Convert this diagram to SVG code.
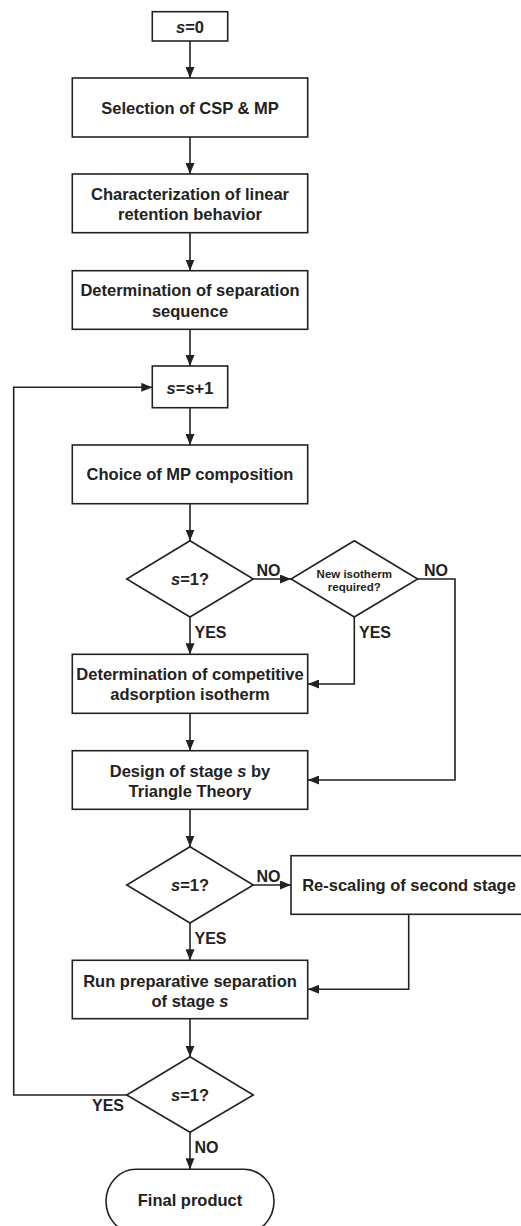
<svg xmlns="http://www.w3.org/2000/svg" width="521" height="1226" viewBox="0 0 521 1226">
<defs>
<marker id="ah" viewBox="0 0 11 9" refX="11" refY="4.5" markerWidth="11" markerHeight="9" markerUnits="userSpaceOnUse" orient="auto">
<path d="M0,0 L11,4.5 L0,9 z" fill="#222"/>
</marker>
<style>
.n{fill:#fff;stroke:#222;stroke-width:1.6}
.t{font-family:"Liberation Sans",Arial,sans-serif;font-weight:bold;font-size:16.5px;fill:#222;text-anchor:middle}
.sm{font-size:11.5px}
.l{font-family:"Liberation Sans",Arial,sans-serif;font-weight:bold;font-size:16px;fill:#222}
.c{fill:none;stroke:#222;stroke-width:1.6;marker-end:url(#ah)}
</style>
</defs>
<rect width="521" height="1226" fill="#fff"/>
<g id="connectors">
<path class="c" d="M190,41 V78"/>
<path class="c" d="M190,137 V174"/>
<path class="c" d="M190,232.7 V270.7"/>
<path class="c" d="M190,329.3 V366"/>
<path class="c" d="M190,407.7 V445"/>
<path class="c" d="M190,503.7 V540.7"/>
<path class="c" d="M253.3,579 H291"/>
<path class="c" d="M417.7,579 H455 V780 H308"/>
<path class="c" d="M190,617 V654.3"/>
<path class="c" d="M354.3,617 V684 H308"/>
<path class="c" d="M190,713.3 V750.7"/>
<path class="c" d="M190,809.3 V846.7"/>
<path class="c" d="M253.3,885 H291"/>
<path class="c" d="M190,923 V960.3"/>
<path class="c" d="M408.7,914.3 V989.3 H308"/>
<path class="c" d="M190,1018.7 V1056.7"/>
<path class="c" d="M126.7,1095 H13.7 V387.3 H152.3"/>
<path class="c" d="M190,1132.3 V1169.3"/>
<text class="l" x="256.5" y="576">NO</text>
<text class="l" x="424" y="576">NO</text>
<text class="l" x="194.5" y="638">YES</text>
<text class="l" x="359" y="638">YES</text>
<text class="l" x="256.5" y="882">NO</text>
<text class="l" x="194.5" y="944">YES</text>
<text class="l" x="92" y="1111">YES</text>
<text class="l" x="194.5" y="1153">NO</text>
</g>
<g id="n_s0"><rect class="n" x="152.3" y="11.7" width="75.4" height="29.3"/><text class="t" x="190" y="32.5"><tspan font-style="italic">s</tspan>=0</text></g>
<g id="n_select"><rect class="n" x="72.3" y="78" width="235.4" height="59"/><text class="t" x="190" y="113.5">Selection of CSP &amp; MP</text></g>
<g id="n_char"><rect class="n" x="72.3" y="174" width="235.4" height="58.7"/><text class="t" x="190" y="200">Characterization of linear</text><text class="t" x="190" y="219.5">retention behavior</text></g>
<g id="n_seq"><rect class="n" x="72.3" y="270.7" width="235.4" height="58.6"/><text class="t" x="190" y="296">Determination of separation</text><text class="t" x="190" y="316.5">sequence</text></g>
<g id="n_inc"><rect class="n" x="152.3" y="366" width="75.4" height="41.7"/><text class="t" x="190" y="393.5"><tspan font-style="italic">s</tspan>=<tspan font-style="italic">s</tspan>+1</text></g>
<g id="n_choice"><rect class="n" x="72.3" y="445" width="235.4" height="58.7"/><text class="t" x="190" y="480">Choice of MP composition</text></g>
<g id="n_d1"><polygon class="n" points="190,540.7 253.3,579 190,617 126.7,579"/><text class="t" x="190" y="585"><tspan font-style="italic">s</tspan>=1?</text></g>
<g id="n_d2"><polygon class="n" points="354.3,540.7 417.7,579 354.3,617 291,579"/><text class="t sm" x="354.3" y="577.5">New isotherm</text><text class="t sm" x="354.3" y="591">required?</text></g>
<g id="n_iso"><rect class="n" x="72.3" y="654.3" width="235.4" height="59"/><text class="t" x="190" y="680">Determination of competitive</text><text class="t" x="190" y="700">adsorption isotherm</text></g>
<g id="n_design"><rect class="n" x="72.3" y="750.7" width="235.4" height="58.6"/><text class="t" x="190" y="776.5">Design of stage <tspan font-style="italic">s</tspan> by</text><text class="t" x="190" y="796.5">Triangle Theory</text></g>
<g id="n_d3"><polygon class="n" points="190,846.7 253.3,885 190,923 126.7,885"/><text class="t" x="190" y="891"><tspan font-style="italic">s</tspan>=1?</text></g>
<g id="n_rescale"><rect class="n" x="291" y="855.7" width="236" height="58.6"/><text class="t" x="409" y="891">Re-scaling of second stage</text></g>
<g id="n_run"><rect class="n" x="72.3" y="960.3" width="235.4" height="58.4"/><text class="t" x="190" y="986.5">Run preparative separation</text><text class="t" x="190" y="1006.5">of stage <tspan font-style="italic">s</tspan></text></g>
<g id="n_d4"><polygon class="n" points="190,1056.7 253.3,1095 190,1132.3 126.7,1095"/><text class="t" x="190" y="1101"><tspan font-style="italic">s</tspan>=1?</text></g>
<g id="n_final"><rect class="n" x="106" y="1169.3" width="168" height="64" rx="30" ry="32"/><text class="t" x="190" y="1206">Final product</text></g>
</svg>
